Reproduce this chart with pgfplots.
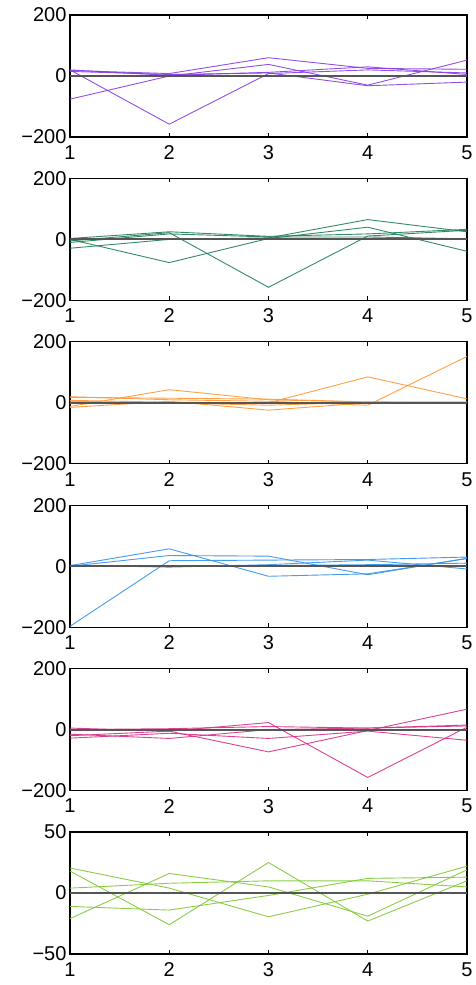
\documentclass[border=0pt]{standalone}
\usepackage{pgfplots}
\pgfplotsset{compat=1.18}
\usepackage{fontspec}
\setmainfont{Liberation Sans}
\definecolor{cpurple}{RGB}{135,60,225}
\definecolor{cgreen}{RGB}{30,125,85}
\definecolor{corange}{RGB}{255,150,50}
\definecolor{cblue}{RGB}{50,145,235}
\definecolor{cpink}{RGB}{215,45,135}
\definecolor{clime}{RGB}{125,200,50}
\definecolor{czero}{RGB}{85,85,85}
\pgfplotsset{
  panel/.style={
    scale only axis, width=397pt, height=122pt,
    xmin=1, xmax=5, xtick={1,2,3,4,5},
    tick align=inside, axis line style={line width=1.3pt},
    major tick length=4pt,
    every tick/.style={black, line width=0.8pt},
    tick label style={font=\fontsize{20}{22}\selectfont},
    xticklabel style={yshift=-5pt},
    /pgf/number format/assume math mode=true,
    anchor=north west,
    every axis plot/.append style={line width=0.9pt, opacity=0.9},
  },
  big/.style={ymin=-200, ymax=200, ytick={-200,0,200}, yticklabels={−200,0,200}},
}
\newcommand{\zeroline}{\addplot[czero, line width=2pt, opacity=1] coordinates {(1,0) (5,0)};}
\begin{document}
\begin{tikzpicture}
\useasboundingbox (-70pt,15pt) rectangle (405pt,-970pt);
% panel 1
\begin{axis}[panel, big, at={(0pt,0pt)}]
\addplot[cpurple] coordinates {(1,20) (2,-158) (3,8) (4,20) (5,10)};
\addplot[cpurple] coordinates {(1,-76) (2,0) (3,38) (4,-30) (5,52)};
\addplot[cpurple] coordinates {(1,18) (2,8) (3,60) (4,25) (5,22)};
\addplot[cpurple] coordinates {(1,15) (2,5) (3,10) (4,-32) (5,-20)};
\addplot[cpurple] coordinates {(1,20) (2,2) (3,12) (4,30) (5,5)};
\zeroline
\end{axis}
% panel 2
\begin{axis}[panel, big, at={(0pt,-163.4pt)}]
\addplot[cgreen] coordinates {(1,0) (2,-76) (3,3) (4,40) (5,-39)};
\addplot[cgreen] coordinates {(1,-5) (2,22) (3,-157) (4,11) (5,30)};
\addplot[cgreen] coordinates {(1,-29) (2,0) (3,5) (4,65) (5,25)};
\addplot[cgreen] coordinates {(1,3) (2,25) (3,10) (4,18) (5,33)};
\addplot[cgreen] coordinates {(1,-10) (2,18) (3,8) (4,8) (5,2)};
\zeroline
\end{axis}
% panel 3
\begin{axis}[panel, big, at={(0pt,-326.8pt)}]
\addplot[corange] coordinates {(1,20) (2,10) (3,5) (4,-8) (5,152)};
\addplot[corange] coordinates {(1,-12) (2,43) (3,10) (4,2) (5,2)};
\addplot[corange] coordinates {(1,8) (2,2) (3,0) (4,85) (5,13)};
\addplot[corange] coordinates {(1,-15) (2,5) (3,-24) (4,0) (5,0)};
\addplot[corange] coordinates {(1,18) (2,15) (3,12) (4,3) (5,2)};
\addplot[corange] coordinates {(1,5) (2,0) (3,-8) (4,2) (5,0)};
\zeroline
\end{axis}
% panel 4
\begin{axis}[panel, big, at={(0pt,-490.2pt)}]
\addplot[cblue] coordinates {(1,-197) (2,18) (3,20) (4,22) (5,30)};
\addplot[cblue] coordinates {(1,2) (2,57) (3,-33) (4,-25) (5,25)};
\addplot[cblue] coordinates {(1,0) (2,35) (3,33) (4,-28) (5,26)};
\addplot[cblue] coordinates {(1,3) (2,-3) (3,5) (4,20) (5,-9)};
\addplot[cblue] coordinates {(1,0) (2,0) (3,2) (4,5) (5,10)};
\zeroline
\end{axis}
% panel 5
\begin{axis}[panel, big, at={(0pt,-653.6pt)}]
\addplot[cpink] coordinates {(1,-20) (2,-5) (3,23) (4,-157) (5,8)};
\addplot[cpink] coordinates {(1,5) (2,-5) (3,-73) (4,-3) (5,67)};
\addplot[cpink] coordinates {(1,-15) (2,-29) (3,0) (4,5) (5,12)};
\addplot[cpink] coordinates {(1,-28) (2,-12) (3,-29) (4,-5) (5,-35)};
\addplot[cpink] coordinates {(1,0) (2,3) (3,10) (4,5) (5,15)};
\zeroline
\end{axis}
% panel 6
\begin{axis}[panel, at={(0pt,-817pt)}, ymin=-50, ymax=50, ytick={-50,0,50}, yticklabels={−50,0,50}]
\addplot[clime] coordinates {(1,20.5) (2,4) (3,-19.5) (4,-1) (5,22)};
\addplot[clime] coordinates {(1,18) (2,-26) (3,25) (4,-23) (5,10)};
\addplot[clime] coordinates {(1,-21) (2,16) (3,5) (4,-19) (5,19)};
\addplot[clime] coordinates {(1,4) (2,8) (3,10) (4,10) (5,5)};
\addplot[clime] coordinates {(1,-11) (2,-14) (3,-2) (4,12) (5,13)};
\zeroline
\end{axis}
\end{tikzpicture}
\end{document}
